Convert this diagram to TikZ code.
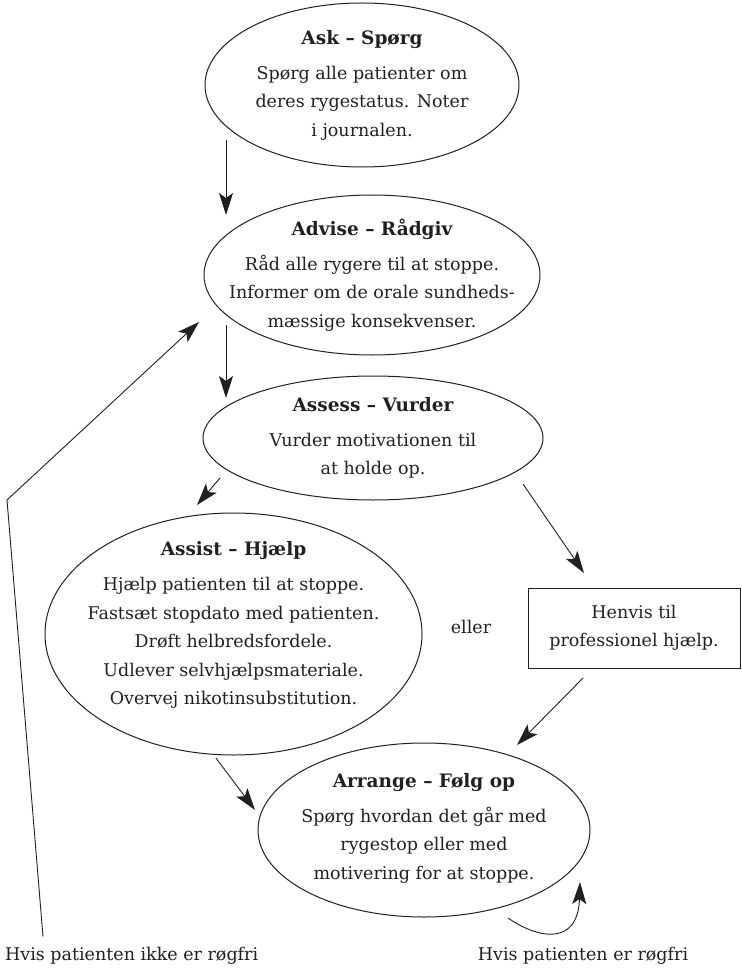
\documentclass[tikz,border=0pt]{standalone}
\usepackage{fontspec}
\setmainfont{DejaVu Serif}
\usetikzlibrary{arrows.meta,calc,shapes.geometric}
\definecolor{ink}{HTML}{231F20}
\begin{document}
\begin{tikzpicture}[x=1pt,y=-1pt,
  every node/.style={font=\fontsize{17.5}{28.5}\selectfont, text=ink},
  bub/.style={ellipse, draw=ink, line width=1pt, inner sep=0pt},
  txt/.style={align=center, inner sep=0pt},
  boxn/.style={rectangle, draw=ink, line width=1pt, inner sep=0pt, align=center},
  ttl/.style={font=\fontsize{18.5}{28.5}\selectfont\bfseries},
  arr/.style={draw=ink, line width=0.9pt, -{Stealth[length=22pt,width=14pt,inset=5pt]}}]
\useasboundingbox (0,0) rectangle (741,968);

\node[bub, minimum width=314pt, minimum height=164pt] (ask) at (362,85) {};
\node[txt] (askT) at (ask.center)
  {{\fontsize{18.5}{28.5}\selectfont\bfseries Ask – Spørg}\\[6.5pt]Spørg alle patienter om\\deres rygestatus. Noter\\i journalen.};
\node[bub, minimum width=336pt, minimum height=160pt] (advise) at (372,275) {};
\node[txt] (adviseT) at (advise.center)
  {{\fontsize{18.5}{28.5}\selectfont\bfseries Advise – Rådgiv}\\[6.5pt]Råd alle rygere til at stoppe.\\Informer om de orale sundheds-\\mæssige konsekvenser.};
\node[bub, minimum width=340pt, minimum height=124pt] (assess) at (373,438) {};
\node[txt] (assessT) at (assess.center)
  {{\fontsize{18.5}{28.5}\selectfont\bfseries Assess – Vurder}\\[6.5pt]Vurder motivationen til\\at holde op.};
\node[bub, minimum width=377pt, minimum height=242pt] (assist) at (233.5,634) {};
\node[txt] (assistT) at ($(assist.center)+(0,-9)$)
  {{\fontsize{18.5}{28.5}\selectfont\bfseries Assist – Hjælp}\\[6.5pt]Hjælp patienten til at stoppe.\\Fastsæt stopdato med patienten.\\Drøft helbredsfordele.\\Udlever selvhjælpsmateriale.\\Overvej nikotinsubstitution.};
\node[boxn, minimum width=212pt, minimum height=80pt] (henvis) at (634,628)
  {Henvis til\\professionel hjælp.};
\node (eller) at (471,627) {eller};
\node[bub, minimum width=332pt, minimum height=174pt] (arrange) at (424,830) {};
\node[txt] (arrangeT) at ($(arrange.center)+(0,-2)$)
  {{\fontsize{18.5}{28.5}\selectfont\bfseries Arrange – Følg op}\\[6.5pt]Spørg hvordan det går med\\rygestop eller med\\motivering for at stoppe.};
\node[anchor=base west, inner sep=0pt] (notfree) at (5,960) {Hvis patienten ikke er røgfri};
\node[anchor=base, inner sep=0pt] (free) at (583,960) {Hvis patienten er røgfri};

\coordinate (corner) at (7,500);

\draw[arr] ($(ask.center)+(-136,55)$) -- ($(advise.center)+(-146,-60)$);
\draw[arr] ($(advise.center)+(-146,50)$) -- ($(assess.center)+(-147,-40)$);
\draw[arr] ($(assess.center)+(-153,40)$) -- ($(assist.center)+(-36.5,-129)$);
\draw[arr] ($(assess.center)+(150,46)$) -- ($(henvis.center)+(-50,-55)$);
\draw[arr] ($(henvis.center)+(-51,50)$) -- ($(arrange.center)+(93,-85)$);
\draw[arr] ($(assist.center)+(-17.5,124)$) -- ($(arrange.center)+(-169,-20)$);
\draw[arr] ($(notfree.north west)+(38,-10)$) -- (corner) -- ($(advise.center)+(-173,47)$);
\draw[arr] ($(arrange.center)+(84,88)$) .. controls ($(arrange.center)+(116,110)$) and ($(arrange.center)+(154,115)$) .. ($(arrange.center)+(156,52)$);
\end{tikzpicture}
\end{document}
